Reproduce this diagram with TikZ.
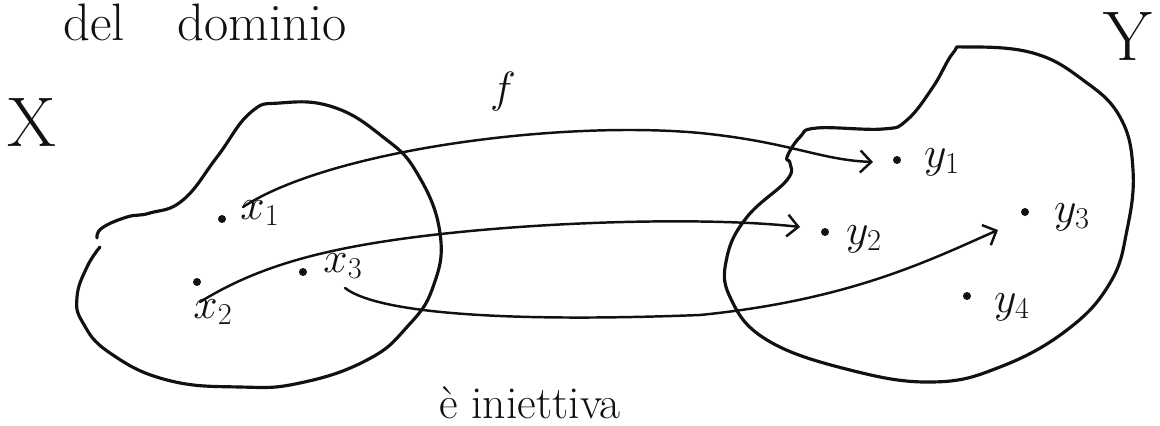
\documentclass[tikz,border=0pt]{standalone}
\usepackage{tikz}
\usetikzlibrary{arrows.meta,positioning,calc}
\usepackage{amsmath}
\definecolor{Ink}{HTML}{111111}
\tikzset{
  blob/.style={draw=Ink, line width=1.8pt, line cap=round, line join=round},
  arr/.style={-{Straight Barb[length=2.2mm,width=4.4mm,line width=1.4pt]}, line width=1.4pt, draw=Ink, line cap=round},
  pt/.style={circle, fill=Ink, inner sep=0pt, minimum size=1.6mm},
  lbl/.style={inner sep=0pt, text=Ink, font=\fontsize{25}{29}\selectfont},
  big/.style={inner sep=0pt, text=Ink, font=\fontsize{40}{44}\selectfont},
  note/.style={inner sep=0pt, text=Ink, font=\fontsize{30}{34}\selectfont}
}

\begin{document}
\begin{tikzpicture}[x=0.02cm, y=-0.02cm]
\useasboundingbox (0,0) rectangle (1160,426);
% titles
\node[note,anchor=base] (title) at (205,40) {del\hspace{1em}dominio};
\node[big] (X) at (32,122) {X};
\node[big] (Y) at (1128,36) {Y};
\node[lbl,font=\fontsize{28}{32}\selectfont] (f) at (503,92) {$f$};
\node[note,font=\fontsize{26}{30}\selectfont] (inj) at (530,403) {è iniettiva};
% set X
\draw[blob] plot[smooth, tension=0.75] coordinates {
  (100,247) (87,267) (77,297) (83,323) (110,353) (167,380) (240,387)
  (300,383) (367,360) (407,327) (433,287) (440,233) (417,173) (383,137)
  (333,107) (280,103) (250,113) (217,157) (183,200) (150,213) (127,217)
  (102,228) (97,238)};
% set Y
\draw[blob] plot[smooth cycle, tension=0.7] coordinates {
  (967,47) (1033,53) (1083,80) (1120,117) (1133,170) (1127,230) (1110,283)
  (1067,330) (1000,367) (933,382) (850,370) (767,340) (730,297) (727,257)
  (747,217) (787,180) (790,163) (787,157) (800,137) (817,128) (883,129)
  (907,120) (933,87) (953,53)};
% points of X
\node[pt] (p1) at (222,219) {};
\node[lbl] (x1) at (260,213) {$x_1$};
\node[pt] (p2) at (197,282) {};
\node[lbl] (x2) at (213,312) {$x_2$};
\node[pt] (p3) at (303,272) {};
\node[lbl] (x3) at (343,266) {$x_3$};
% points of Y
\node[pt] (q1) at (897,160) {};
\node[lbl] (y1) at (942,162) {$y_1$};
\node[pt] (q2) at (825,232) {};
\node[lbl] (y2) at (864,239) {$y_2$};
\node[pt] (q3) at (1025,212) {};
\node[lbl] (y3) at (1072,217) {$y_3$};
\node[pt] (q4) at (967,296) {};
\node[lbl] (y4) at (1012,307) {$y_4$};
% arrow ends
\coordinate (s1) at (243,207);
\coordinate (e1) at (873,162);
\coordinate (s2) at (200,302);
\coordinate (e2) at (800,227);
\coordinate (s3) at (345,288);
\coordinate (e3) at (998,230);
% f
\draw[arr] (s1) .. controls (330,150) and (560,120) .. (700,133)
  .. controls (790,142) and (820,160) .. (e1);
\draw[arr] (s2) .. controls (260,265) and (330,245) .. (460,232)
  .. controls (580,220) and (720,218) .. (e2);
\draw[arr] (s3) .. controls (380,315) and (520,322) .. (700,315)
  .. controls (850,300) and (930,260) .. (e3);
\end{tikzpicture}
\end{document}
